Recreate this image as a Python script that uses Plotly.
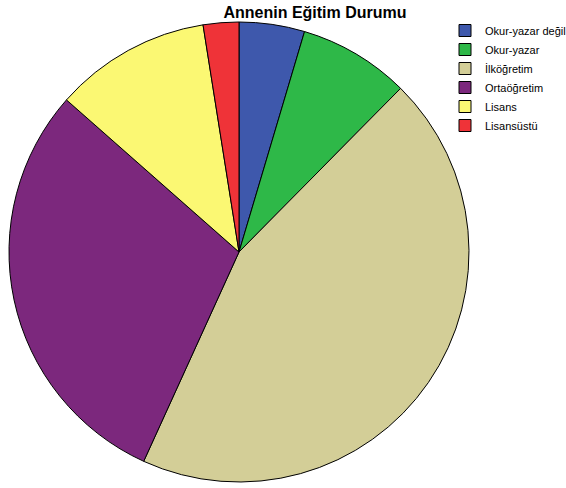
import plotly.graph_objects as go

# Education levels and approximate shares (%)
categories = ['Okur-yazar değil', 'Okur-yazar', 'İlköğretim', 'Ortaöğretim', 'Lisans', 'Lisansüstü']
shares = [4.6, 7.8, 44.4, 29.7, 11.0, 2.5]
colors = ['#3E58AC', '#2EB848', '#D3CE97', '#7C287D', '#FBF873', '#EF3338']

W, H = 566, 488

fig = go.Figure(go.Pie(
    labels=categories,
    values=shares,
    sort=False,
    direction='clockwise',
    rotation=0,
    textinfo='none',
    hoverinfo='label+percent',
    marker=dict(colors=colors, line=dict(color='black', width=1)),
    domain=dict(x=[9 / W, 469 / W], y=[1 - 482 / H, 1 - 22 / H]),
))

fig.update_layout(
    width=W, height=H,
    margin=dict(l=0, r=0, t=0, b=0, autoexpand=False),
    paper_bgcolor='white',
    plot_bgcolor='white',
    title=dict(text='<b>Annenin Eğitim Durumu</b>', x=315 / W, xanchor='center',
               y=1 - 12 / H, yanchor='middle',
               font=dict(family='Liberation Sans, Arial', size=16, color='black')),
    legend=dict(x=445 / W, y=1 - 16 / H, xanchor='left', yanchor='top',
                font=dict(family='Liberation Sans, Arial', size=11, color='black'),
                tracegroupgap=0, itemwidth=30, bgcolor='rgba(0,0,0,0)'),
)

# drop the default page margin so the figure sits at the window's corner
fig.write_html('out.html', config={'displayModeBar': False},
               post_script="document.body.style.margin='0';")
